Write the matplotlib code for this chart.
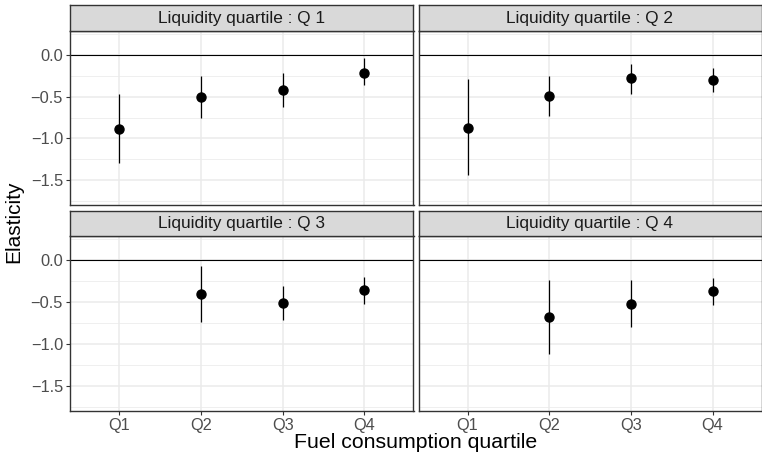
import matplotlib
matplotlib.use("Agg")
import matplotlib.pyplot as plt
import numpy as np

plt.rcParams['font.family'] = ['Liberation Sans', 'DejaVu Sans']

# Elasticity estimates by fuel consumption quartile, one panel per liquidity quartile
fuel_quartiles = ["Q1", "Q2", "Q3", "Q4"]
liquidity_panels = ["Q 1", "Q 2", "Q 3", "Q 4"]

estimate = {
    "Q 1": [-0.89, -0.50, -0.42, -0.21],
    "Q 2": [-0.87, -0.49, -0.28, -0.30],
    "Q 3": [None, -0.40, -0.51, -0.36],
    "Q 4": [None, -0.68, -0.52, -0.37],
}
lower = {
    "Q 1": [-1.30, -0.76, -0.62, -0.36],
    "Q 2": [-1.44, -0.73, -0.47, -0.44],
    "Q 3": [None, -0.74, -0.71, -0.52],
    "Q 4": [None, -1.12, -0.80, -0.53],
}
upper = {
    "Q 1": [-0.47, -0.25, -0.22, -0.04],
    "Q 2": [-0.29, -0.25, -0.11, -0.16],
    "Q 3": [None, -0.07, -0.31, -0.20],
    "Q 4": [None, -0.24, -0.24, -0.21],
}

W, H = 762, 454
fig = plt.figure(figsize=(W / 100, H / 100), dpi=100)

# panel boxes in pixels: (left, right, strip top, panel top, panel bottom)
cols = [(70, 413.5), (418.5, 761.5)]
rows = [(5, 31, 205), (211, 236, 410.7)]

grid_col = "#EBEBEB"
border_col = "#333333"

for idx, name in enumerate(liquidity_panels):
    r, c = divmod(idx, 2)
    x0, x1 = cols[c]
    st, pt, pb = rows[r]
    ax = fig.add_axes([x0 / W, (H - pb) / H, (x1 - x0) / W, (pb - pt) / H])
    sax = fig.add_axes([x0 / W, (H - pt) / H, (x1 - x0) / W, (pt - st) / H])

    # strip
    sax.set_facecolor("#D9D9D9")
    sax.set_xticks([])
    sax.set_yticks([])
    for s in sax.spines.values():
        s.set_color(border_col)
        s.set_linewidth(1.0)
    sax.text(0.5, 0.5, f"Liquidity quartile : {name}", ha="center", va="center",
             fontsize=12.4, color="#1A1A1A", transform=sax.transAxes)

    xs = np.arange(1, len(fuel_quartiles) + 1)
    ax.set_xlim(0.4, 4.6)
    ax.set_ylim(-1.80, 0.29)

    # grid
    for y in [-1.75, -1.25, -0.75, -0.25, 0.25]:
        ax.axhline(y, color=grid_col, lw=0.55, zorder=0)
    for y in [-1.5, -1.0, -0.5, 0.0]:
        ax.axhline(y, color=grid_col, lw=1.1, zorder=0)
    for x in xs:
        ax.axvline(x, color=grid_col, lw=1.1, zorder=0)

    ax.axhline(0, color="black", lw=0.8, zorder=1)

    for x, est, lo, hi in zip(xs, estimate[name], lower[name], upper[name]):
        if est is None:
            continue
        ax.vlines(x, lo, hi, color="black", lw=0.9, zorder=2)
        ax.plot(x, est, "o", color="black", ms=6.5, zorder=3)

    for s in ax.spines.values():
        s.set_color(border_col)
        s.set_linewidth(1.0)

    ax.set_yticks([-1.5, -1.0, -0.5, 0.0])
    ax.set_xticks(xs)
    ax.tick_params(length=3, width=0.8, color=border_col, labelcolor="#4D4D4D",
                   labelsize=11.8, pad=2)
    if c == 0:
        ax.set_yticklabels(["\u22121.5", "\u22121.0", "\u22120.5", "0.0"])
    else:
        ax.tick_params(axis="y", labelleft=False, length=0)
    if r == 1:
        ax.set_xticklabels(fuel_quartiles)
    else:
        ax.tick_params(axis="x", labelbottom=False, length=0)

fig.text(416 / W, 1 - 443 / H, "Fuel consumption quartile", ha="center", va="center",
         fontsize=15.3, color="black")
fig.text(14 / W, 1 - 222 / H, "Elasticity", ha="center", va="center",
         rotation=90, fontsize=15, color="black")

fig.savefig("out.png", dpi=100)
